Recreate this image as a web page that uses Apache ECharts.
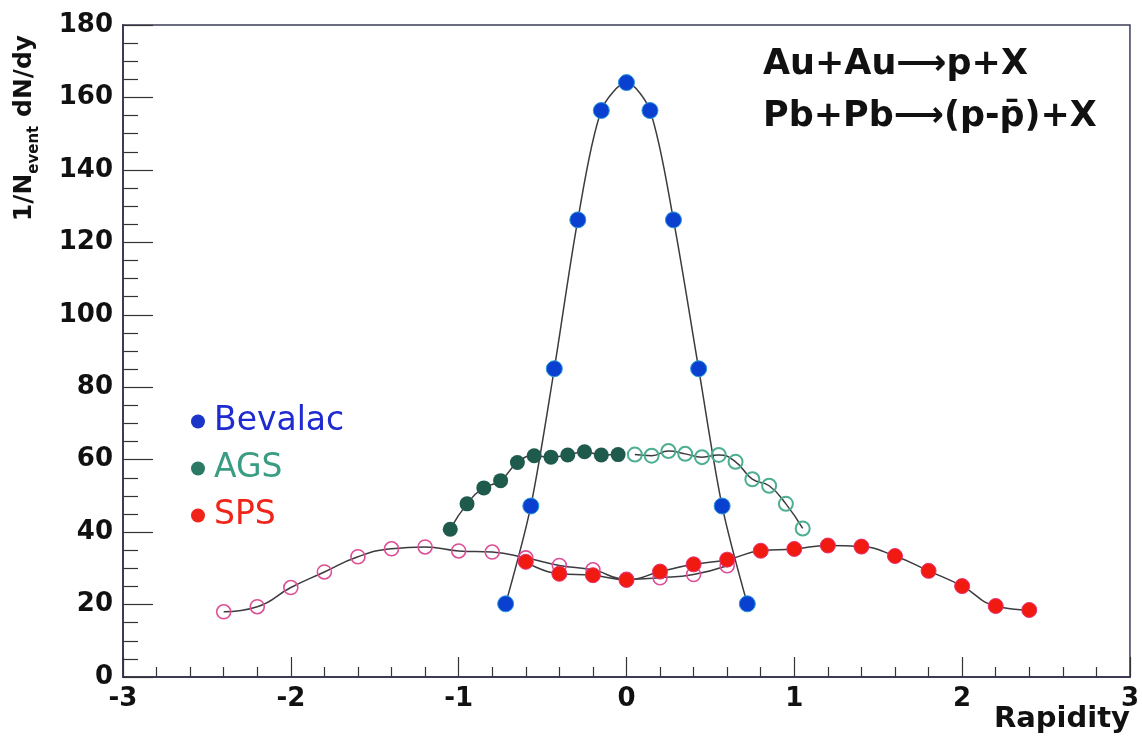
<!DOCTYPE html>
<html>
<head>
<meta charset="utf-8">
<script src="https://cdn.jsdelivr.net/npm/echarts@6/dist/echarts.min.js"></script>
<style>
  html, body { margin: 0; padding: 0; background: #fff; }
  #chart { width: 1142px; height: 744px; }
</style>
</head>
<body>
<div id="chart"></div>
<script>
// Proton rapidity distributions (measured half filled, reflected half open)
const bevalacX = [-0.72, -0.57, -0.43, -0.29, -0.15, 0, 0.14, 0.28, 0.43, 0.57, 0.72];
const bevalacY = [20.2, 47.2, 85.1, 126.2, 156.4, 164.1, 156.4, 126.2, 85.1, 47.2, 20.2];

const agsX = [-1.05, -0.95, -0.85, -0.75, -0.65, -0.55, -0.45, -0.35, -0.25, -0.15, -0.05];
const agsY = [40.8, 47.8, 52.2, 54.2, 59.2, 61.1, 60.7, 61.3, 62.2, 61.3, 61.4];
const agsReflX = [0.05, 0.15, 0.25, 0.35, 0.45, 0.55, 0.65, 0.75, 0.85, 0.95, 1.05];
const agsReflY = [61.4, 61.1, 62.4, 61.6, 60.7, 61.3, 59.4, 54.6, 52.8, 47.8, 41.0];

const spsX = [-0.6, -0.4, -0.2, 0, 0.2, 0.4, 0.6, 0.8, 1.0, 1.2, 1.4, 1.6, 1.8, 2.0, 2.2, 2.4];
const spsY = [31.8, 28.5, 28.1, 26.8, 29.1, 31.1, 32.4, 34.85, 35.35, 36.3, 36.0, 33.4, 29.3, 25.1, 19.6, 18.5];
const spsReflX = [-2.4, -2.2, -2.0, -1.8, -1.6, -1.4, -1.2, -1.0, -0.8, -0.6, -0.4, -0.2, 0, 0.2, 0.4, 0.6];
const spsReflY = [18.0, 19.4, 24.7, 29.0, 33.2, 35.4, 35.9, 34.8, 34.5, 32.9, 30.8, 29.6, 27.0, 27.4, 28.3, 30.7];

const xTicks = [-3, -2, -1, 0, 1, 2, 3];
const yTicks = [0, 20, 40, 60, 80, 100, 120, 140, 160, 180];

const legendNames = ['Bevalac', 'AGS', 'SPS'];
const reactionLines = ['Au+Au\u27F6p+X', 'Pb+Pb\u27F6(p-p\u0304)+X'];

const zip = (xs, ys) => xs.map((x, i) => [x, ys[i]]);

const curveColor = '#3b3b40';
const axisColor = '#3c3c58';
const labelFont = { fontFamily: 'DejaVu Sans', fontWeight: 'bold', fontSize: 26, color: '#111' };

function curve(name, xs, ys, fill, border, borderWidth, size, smooth) {
  return {
    name: name,
    type: 'line',
    data: zip(xs, ys),
    smooth: smooth,
    symbol: 'circle',
    symbolSize: size,
    showSymbol: true,
    lineStyle: { color: curveColor, width: 1.5 },
    itemStyle: { color: fill, borderColor: border, borderWidth: borderWidth, opacity: 1 },
    emphasis: { disabled: true },
    animation: false
  };
}

const chart = echarts.init(document.getElementById('chart'), null, { renderer: 'canvas' });

chart.setOption({
  backgroundColor: '#ffffff',
  animation: false,
  grid: {
    left: 123, right: 11, top: 25, bottom: 67,
    show: true, borderColor: axisColor, borderWidth: 1.5, backgroundColor: 'transparent'
  },
  xAxis: {
    type: 'value',
    min: xTicks[0], max: xTicks[xTicks.length - 1], interval: 1,
    axisLine: { show: true, onZero: false, lineStyle: { color: axisColor, width: 2 } },
    axisTick: { show: true, inside: true, length: 20, lineStyle: { color: '#333', width: 1.2 } },
    minorTick: { show: true, splitNumber: 5, length: 10, lineStyle: { color: '#333', width: 1.2 } },
    splitLine: { show: false },
    axisLabel: Object.assign({ margin: 9, formatter: v => String(v) }, labelFont)
  },
  yAxis: {
    type: 'value',
    min: yTicks[0], max: yTicks[yTicks.length - 1], interval: 20,
    axisLine: { show: true, onZero: false, lineStyle: { color: axisColor, width: 2 } },
    axisTick: { show: true, inside: true, length: 30, lineStyle: { color: '#333', width: 1.2 } },
    minorTick: { show: true, splitNumber: 4, length: 15, lineStyle: { color: '#333', width: 1.2 } },
    splitLine: { show: false },
    axisLabel: Object.assign({ margin: 10 }, labelFont)
  },
  legend: {
    orient: 'vertical',
    left: 186, top: 400,
    icon: 'circle',
    itemWidth: 14, itemHeight: 14,
    itemGap: 14,
    selectedMode: false,
    textStyle: { fontFamily: 'DejaVu Sans', fontSize: 33, padding: [0, 0, 0, 4] },
    data: [
      { name: legendNames[0], textStyle: { color: '#1f2bd0' }, itemStyle: { color: '#1a35c8', borderWidth: 0 } },
      { name: legendNames[1], textStyle: { color: '#3a9c82' }, itemStyle: { color: '#2c7a66', borderWidth: 0 } },
      { name: legendNames[2], textStyle: { color: '#f02418' }, itemStyle: { color: '#f02418', borderWidth: 0 } }
    ]
  },
  graphic: [
    {
      type: 'text', left: 763, top: 47,
      style: { text: reactionLines[0], fontFamily: 'DejaVu Sans', fontWeight: 'bold', fontSize: 35, fill: '#111' }
    },
    {
      type: 'text', left: 763, top: 99,
      style: { text: reactionLines[1], fontFamily: 'DejaVu Sans', fontWeight: 'bold', fontSize: 35, fill: '#111' }
    },
    {
      type: 'text', x: 27, y: 128, rotation: Math.PI / 2,
      style: {
        text: '{a|1/N}{s|event}{a| dN/dy}',
        align: 'center', verticalAlign: 'middle',
        rich: {
          a: { fontFamily: 'DejaVu Sans', fontWeight: 'bold', fontSize: 25, fill: '#111', verticalAlign: 'top', padding: [0, 0, 5, 0] },
          s: { fontFamily: 'DejaVu Sans', fontWeight: 'bold', fontSize: 15, fill: '#111', verticalAlign: 'bottom' }
        }
      }
    },
    {
      type: 'text', right: 12, top: 705,
      style: { text: 'Rapidity', fontFamily: 'DejaVu Sans', fontWeight: 'bold', fontSize: 29, fill: '#111' }
    }
  ],
  series: [
    curve('AGS', agsX, agsY, '#1f5b4d', '#1f5b4d', 0, 15, 0.5),
    curve('AGS reflected', agsReflX, agsReflY, 'rgba(255,255,255,0)', '#4dae92', 2, 14, 0.5),
    curve('SPS reflected', spsReflX, spsReflY, 'rgba(255,255,255,0)', '#dc4f95', 1.6, 14, 0.5),
    curve('SPS', spsX, spsY, '#f01a10', '#e83070', 1, 15, 0.5),
    curve('Bevalac', bevalacX, bevalacY, '#0a40d0', '#2a98dc', 1, 16, 0.3)
  ]
});
</script>
</body>
</html>
